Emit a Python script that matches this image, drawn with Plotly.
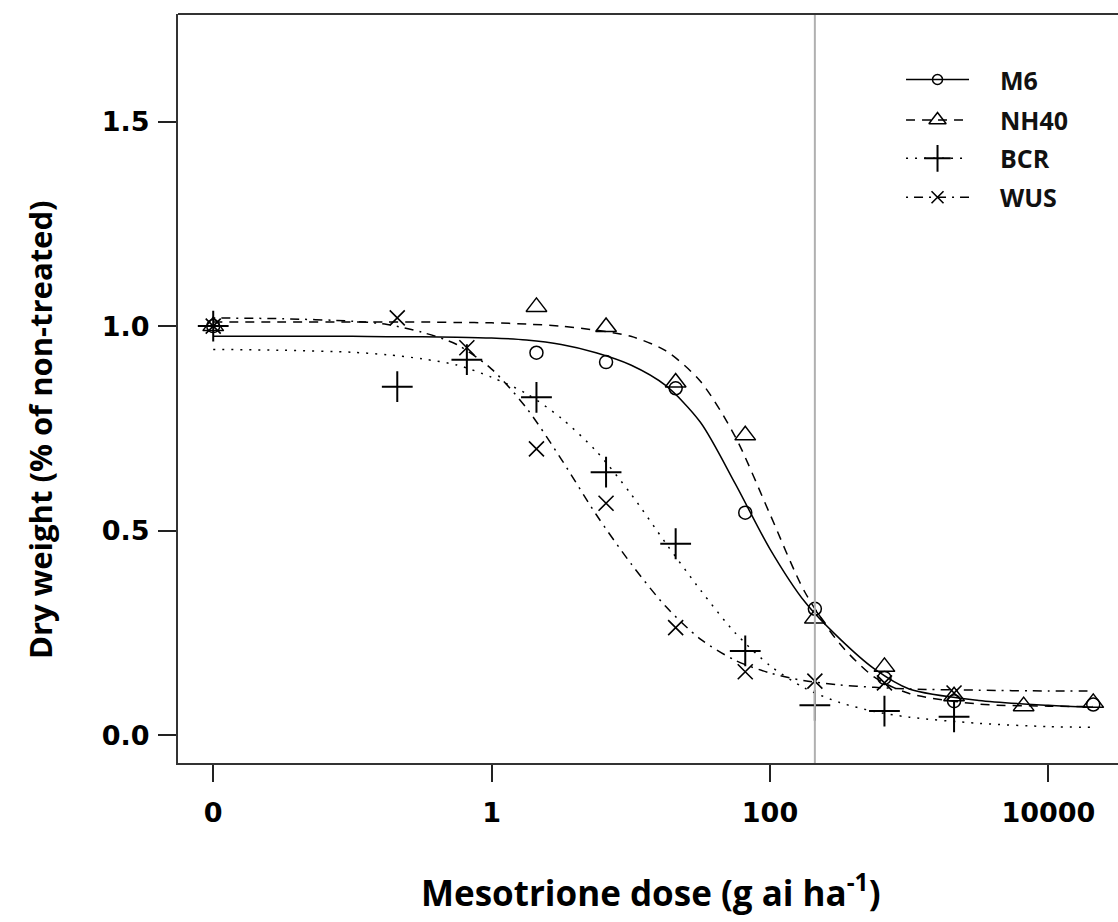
import numpy as np
import plotly.graph_objects as go

# ---------------- data ----------------
ZERO_POS = 0.01          # where the "0" dose is drawn on the log axis
REF_DOSE = 210           # grey reference line (g ai/ha)

series_names = ["M6", "NH40", "BCR", "WUS"]

m6_dose   = [0, 2.1, 6.64, 21, 66.4, 210, 664, 2100, 21000]
m6_resp   = [1.0, 0.935, 0.912, 0.848, 0.544, 0.309, 0.14, 0.083, 0.075]

nh40_dose = [0, 2.1, 6.64, 21, 66.4, 210, 664, 2100, 6640, 21000]
nh40_resp = [1.0, 1.047, 0.998, 0.862, 0.733, 0.285, 0.167, 0.095, 0.071, 0.079]

bcr_dose  = [0, 0.21, 0.664, 2.1, 6.64, 21, 66.4, 210, 664, 2100]
bcr_resp  = [1.0, 0.852, 0.918, 0.826, 0.643, 0.468, 0.206, 0.073, 0.059, 0.045]

wus_dose  = [0, 0.21, 0.664, 2.1, 6.64, 21, 66.4, 210, 664, 2100]
wus_resp  = [1.0, 1.02, 0.947, 0.70, 0.567, 0.263, 0.155, 0.132, 0.128, 0.103]

# fitted curves at these log10(dose) positions
curve_log = [-2, -1.5, -1, -0.75, -0.5, -0.25, 0, 0.25, 0.5, 0.75, 1, 1.25,
             1.5, 1.75, 2, 2.25, 2.5, 2.75, 3, 3.5, 4, 4.32]
m6_curve   = [0.975, 0.975, 0.975, 0.974, 0.974, 0.973, 0.971, 0.966, 0.955, 0.935,
              0.905, 0.855, 0.765, 0.615, 0.455, 0.326, 0.236, 0.162, 0.113, 0.085,
              0.073, 0.068]
nh40_curve = [1.01, 1.01, 1.01, 1.01, 1.01, 1.009, 1.008, 1.005, 1.0, 0.99,
              0.975, 0.94, 0.865, 0.73, 0.54, 0.35, 0.224, 0.142, 0.102, 0.076,
              0.071, 0.07]
bcr_curve  = [0.943, 0.941, 0.936, 0.93, 0.92, 0.905, 0.875, 0.835, 0.775, 0.695,
              0.59, 0.47, 0.355, 0.25, 0.17, 0.115, 0.08, 0.058, 0.044, 0.029,
              0.021, 0.019]
wus_curve  = [1.02, 1.018, 1.012, 1.004, 0.985, 0.955, 0.895, 0.80, 0.675, 0.54,
              0.42, 0.315, 0.235, 0.183, 0.152, 0.133, 0.123, 0.117, 0.113, 0.11,
              0.108, 0.108]

x_tickvals = [0.01, 1, 100, 10000]
x_ticktext = ["0", "1", "100", "10000"]
y_tickvals = [0.0, 0.5, 1.0, 1.5]
y_ticktext = ["0.0", "0.5", "1.0", "1.5"]

# ---------------- styles ----------------
styles = {
    "M6":   dict(dash="solid",            symbol="circle-open",      size=13, mlw=1.5),
    "NH40": dict(dash="9px,7px",          symbol="triangle-up-open", size=18, mlw=1.5),
    "BCR":  dict(dash="2px,7px",          symbol="cross-thin-open",  size=22, mlw=2),
    "WUS":  dict(dash="2px,6px,9px,6px",  symbol="x-thin-open",      size=15, mlw=1.6),
}
points = {"M6": (m6_dose, m6_resp), "NH40": (nh40_dose, nh40_resp),
          "BCR": (bcr_dose, bcr_resp), "WUS": (wus_dose, wus_resp)}
curves = {"M6": m6_curve, "NH40": nh40_curve, "BCR": bcr_curve, "WUS": wus_curve}

def pos(d):
    return [ZERO_POS if v == 0 else v for v in d]

fig = go.Figure()
curve_x = [10 ** v for v in curve_log]
for name in series_names:
    st = styles[name]
    fig.add_trace(go.Scatter(
        x=curve_x, y=curves[name], mode="lines",
        line=dict(color="black", width=1.5, dash=st["dash"], shape="spline", smoothing=0.8),
        showlegend=False, hoverinfo="skip"))
for name in series_names:
    st = styles[name]
    d, r = points[name]
    fig.add_trace(go.Scatter(
        x=pos(d), y=r, mode="markers", name=name,
        marker=dict(symbol=st["symbol"], size=st["size"], color="black",
                    line=dict(color="black", width=st["mlw"])),
        showlegend=False))

# ---------------- custom legend (overlay axes in paper units) ----------------
leg_x0, leg_x1, leg_xm, leg_tx = 0.7745, 0.8415, 0.808, 0.872
leg_rows = [0.9125, 0.8585, 0.8073, 0.7554]
for name, yy in zip(series_names, leg_rows):
    st = styles[name]
    fig.add_trace(go.Scatter(
        x=[leg_x0, leg_x1], y=[yy, yy], mode="lines", xaxis="x2", yaxis="y2",
        line=dict(color="black", width=1.5, dash=st["dash"]),
        showlegend=False, hoverinfo="skip"))
    fig.add_trace(go.Scatter(
        x=[leg_xm], y=[yy], mode="markers", xaxis="x2", yaxis="y2",
        marker=dict(symbol=st["symbol"], size=st["size"] - 3, color="black",
                    line=dict(color="black", width=st["mlw"])),
        showlegend=False, hoverinfo="skip"))
    fig.add_annotation(x=leg_tx, y=yy, xref="paper", yref="paper", text=name,
                       showarrow=False, xanchor="left", yanchor="middle",
                       font=dict(family="Open Sans", size=25, color="#111", weight="bold"))

# grey reference line
fig.add_shape(type="line", xref="x", yref="paper", x0=REF_DOSE, x1=REF_DOSE,
              y0=0, y1=1, line=dict(color="#b0b0b0", width=2))
# top frame line
fig.add_shape(type="line", xref="paper", yref="paper", x0=0, x1=1, y0=1, y1=1,
              line=dict(color="#333", width=2))

tick_font = dict(family="DejaVu Sans", size=27, color="black", weight="bold")
fig.update_layout(
    width=1118, height=922,
    margin=dict(l=178, r=0, t=14, b=159),
    paper_bgcolor="white", plot_bgcolor="white",
    xaxis=dict(type="log", range=[np.log10(ZERO_POS) - 0.253, 4.50],
               tickvals=x_tickvals, ticktext=x_ticktext, tickfont=tick_font,
               ticks="outside", ticklen=17, tickwidth=1.5, tickcolor="#222",
               showline=True, linecolor="#333", linewidth=2, showgrid=False,
               zeroline=False, ticklabelstandoff=8),
    yaxis=dict(range=[-0.068, 1.763], tickvals=y_tickvals, ticktext=y_ticktext,
               tickfont=tick_font, ticks="outside", ticklen=18, tickwidth=1.5,
               tickcolor="#222", showline=True, linecolor="#333", linewidth=2,
               showgrid=False, zeroline=False, ticklabelstandoff=3),
    xaxis2=dict(range=[0, 1], domain=[0, 1], overlaying="x", visible=False),
    yaxis2=dict(range=[0, 1], domain=[0, 1], overlaying="y", visible=False),
    showlegend=False,
)

fig.add_annotation(x=(40 - 178) / 940, y=(763 - 430) / 749, xref="paper", yref="paper",
                   xanchor="center", yanchor="middle", textangle=-90, showarrow=False,
                   text="Dry weight (% of non-treated)",
                   font=dict(family="Open Sans", size=31, color="black", weight="bold"))
fig.add_annotation(x=(651 - 178) / 940, y=(763 - 890) / 749, xref="paper", yref="paper",
                   xanchor="center", yanchor="middle", showarrow=False,
                   text="Mesotrione dose (g ai ha<sup>-1</sup>)",
                   font=dict(family="Open Sans", size=35, color="black", weight="bold"))

fig.write_html("out.html", config={"displayModeBar": False},
               post_script="document.body.style.margin='0px';")
